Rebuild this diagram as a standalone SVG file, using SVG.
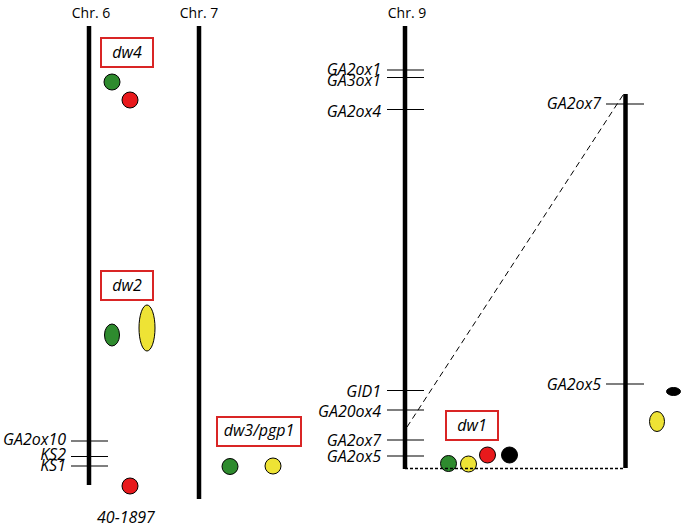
<svg xmlns="http://www.w3.org/2000/svg" width="685" height="528" viewBox="0 0 685 528">
<style>
text{font-family:"Open Sans","Liberation Sans",sans-serif;font-size:14px;fill:#000}
.it{font-style:italic;font-size:16px}
.lab{font-style:italic;font-size:16px;text-anchor:end}
.c{text-anchor:middle}
.box{fill:#fff;stroke:#d92525;stroke-width:2}
.chr{stroke:#000;stroke-width:4.5}
.tick{stroke:#000;stroke-width:1.2}
.g{fill:#2e8b2e;stroke:#000;stroke-width:1}
.r{fill:#e8191c;stroke:#000;stroke-width:1}
.y{fill:#eee335;stroke:#000;stroke-width:1}
.k{fill:#000;stroke:#000;stroke-width:1}
</style>
<rect width="685" height="528" fill="#fff"/>
<g id="chr6">
<text x="91" y="18" class="c">Chr. 6</text>
<line class="chr" x1="89" y1="26" x2="89" y2="485"/>
<line class="tick" x1="71" y1="441" x2="108" y2="441"/>
<line class="tick" x1="71" y1="456.5" x2="108" y2="456.5"/>
<line class="tick" x1="71" y1="466" x2="108" y2="466"/>
<text x="66" y="445" class="lab">GA2ox10</text>
<text x="66" y="460" class="lab">KS2</text>
<text x="66" y="470.5" class="lab">KS1</text>
<text x="126" y="523" class="c it">40-1897</text>
</g>
<g id="dw4">
<rect class="box" x="101" y="38" width="52" height="29"/>
<text x="127" y="57.5" class="c it">dw4</text>
<circle class="g" cx="112" cy="82" r="8"/>
<circle class="r" cx="130" cy="100" r="8"/>
</g>
<g id="dw2">
<rect class="box" x="101" y="271" width="52" height="29"/>
<text x="127" y="290.5" class="c it">dw2</text>
<ellipse class="g" cx="112" cy="335" rx="7.5" ry="11"/>
<ellipse class="y" cx="147" cy="328" rx="8" ry="23"/>
<circle class="r" cx="130" cy="486" r="8"/>
</g>
<g id="chr7">
<text x="199" y="18" class="c">Chr. 7</text>
<line class="chr" x1="199" y1="26" x2="199" y2="499"/>
</g>
<g id="dw3">
<rect class="box" x="217" y="417" width="84" height="29"/>
<text x="259" y="436" class="c it">dw3/pgp1</text>
<circle class="g" cx="230" cy="466.5" r="8"/>
<circle class="y" cx="273" cy="466" r="8"/>
</g>
<g id="chr9">
<text x="407" y="18" class="c">Chr. 9</text>
<line class="chr" x1="405" y1="26" x2="405" y2="469"/>
<line class="tick" x1="387" y1="70" x2="424" y2="70"/>
<line class="tick" x1="387" y1="77.5" x2="424" y2="77.5"/>
<line class="tick" x1="387" y1="109.5" x2="424" y2="109.5"/>
<line class="tick" x1="387" y1="390.5" x2="424" y2="390.5"/>
<line class="tick" x1="387" y1="410" x2="424" y2="410"/>
<line class="tick" x1="387" y1="440" x2="424" y2="440"/>
<line class="tick" x1="387" y1="456" x2="424" y2="456"/>
<text x="381" y="75" class="lab">GA2ox1</text>
<text x="381" y="86" class="lab">GA3ox1</text>
<text x="381" y="117" class="lab">GA2ox4</text>
<text x="381" y="397" class="lab">GID1</text>
<text x="381" y="417" class="lab">GA20ox4</text>
<text x="381" y="446" class="lab">GA2ox7</text>
<text x="381" y="462" class="lab">GA2ox5</text>
</g>
<g id="dw1">
<rect class="box" x="446" y="411" width="52" height="29"/>
<text x="472" y="430.5" class="c it">dw1</text>
<circle class="g" cx="448.5" cy="463.5" r="8"/>
<circle class="y" cx="468.5" cy="464" r="8"/>
<circle class="r" cx="487.5" cy="455" r="8"/>
<circle class="k" cx="509.5" cy="455" r="8"/>
</g>
<g id="chrR">
<line class="chr" x1="625.5" y1="94" x2="625.5" y2="468"/>
<line class="tick" x1="606" y1="104" x2="644" y2="104"/>
<line class="tick" x1="606" y1="384" x2="644" y2="384"/>
<text x="601" y="109" class="lab">GA2ox7</text>
<text x="601" y="390" class="lab">GA2ox5</text>
<ellipse class="k" cx="673.5" cy="391.5" rx="7" ry="4"/>
<ellipse class="y" cx="657" cy="421.5" rx="7.5" ry="10"/>
</g>
<g id="connectors">
<line x1="407" y1="427" x2="623" y2="95" stroke="#000" stroke-width="1" stroke-dasharray="6,4"/>
<line x1="405" y1="468.5" x2="625" y2="468.5" stroke="#000" stroke-width="1.3" stroke-dasharray="3,2"/>
</g>
</svg>
